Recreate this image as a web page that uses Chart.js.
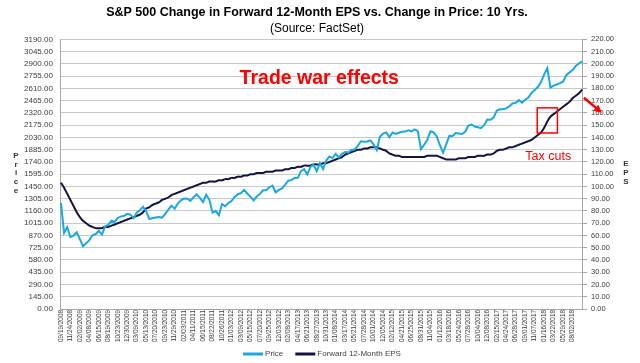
<!DOCTYPE html>
<html>
<head>
<meta charset="utf-8">
<script src="https://cdn.jsdelivr.net/npm/chart.js@4.4.1/dist/chart.umd.min.js"></script>
<style>
  html, body { margin: 0; padding: 0; background: #fff; }
  #wrap { width: 640px; height: 363px; }
</style>
</head>
<body>
<div id="wrap"><canvas id="c" width="640" height="363"></canvas></div>
<script>
// Tick labels on the date axis (one every third data point)
const tickLabels = [
  '09/19/2008','11/24/2008','02/02/2009','04/08/2009','06/15/2009','08/19/2009','10/23/2009','12/30/2009',
  '03/09/2010','05/13/2010','07/20/2010','09/23/2010','11/29/2010','02/03/2011','04/11/2011','06/15/2011',
  '08/22/2011','10/26/2011','01/03/2012','03/09/2012','05/15/2012','07/20/2012','09/25/2012','12/03/2012',
  '02/08/2013','04/17/2013','06/21/2013','08/27/2013','10/31/2013','01/08/2014','03/17/2014','05/21/2014',
  '07/28/2014','10/01/2014','12/05/2014','02/12/2015','04/21/2015','06/25/2015','08/31/2015','11/04/2015',
  '01/12/2016','03/18/2016','05/24/2016','07/28/2016','10/04/2016','12/08/2016','02/15/2017','04/24/2017',
  '06/28/2017','09/01/2017','11/07/2017','01/16/2018','03/22/2018','05/29/2018','08/02/2018'
];

// S&P 500 price (left axis), three points per tick interval
const price = [
  1255, 900, 968,   852, 869, 907,   826, 743, 778,   815, 873, 887,
  924, 881, 979,    996, 1044, 1029, 1080, 1093, 1103, 1126, 1116, 1075,
  1140, 1169, 1208, 1157, 1064, 1076, 1083, 1089, 1080, 1124, 1176, 1223,
  1187, 1247, 1285, 1307, 1306, 1279, 1324, 1356, 1316, 1265, 1353, 1292,
  1140, 1162, 1110, 1242, 1216, 1255, 1277, 1326, 1358, 1370, 1408, 1367,
  1330, 1285, 1331, 1362, 1405, 1406, 1441, 1460, 1380, 1409, 1427, 1472,
  1518, 1525, 1551, 1552, 1632, 1654, 1592, 1682, 1707, 1631, 1725, 1656,
  1757, 1804, 1786, 1837, 1794, 1836, 1858, 1851, 1884, 1888, 1930, 1985,
  1978, 1982, 1995, 1946, 1880, 2039, 2075, 2090, 2032, 2088, 2071, 2086,
  2097, 2099, 2114, 2102, 2126, 2104, 1890, 1943, 2003, 2102, 2089, 2041,
  1938, 1850, 1951, 2049, 2047, 2081, 2076, 2071, 2097, 2170, 2183, 2159,
  2150, 2139, 2176, 2241, 2239, 2265, 2349, 2364, 2363, 2374, 2400, 2433,
  2440, 2473, 2441, 2477, 2502, 2557, 2591, 2626, 2685, 2776, 2850, 2620,
  2644, 2656, 2672, 2690, 2767, 2798, 2827, 2875, 2905, 2930
];

// Forward 12-month EPS (right axis)
const eps = [
  103, 99, 94,   89, 84, 79,   75, 72, 70,   68, 67, 66,
  66, 66, 67,    67, 68, 69,   70, 71, 72,   73, 74, 75,
  76, 77, 79,    82, 83, 85,   86, 87, 89,   90, 91, 93,
  94, 95, 96,    97, 98, 99,   100, 101, 102, 103, 103, 104,
  104, 104, 105, 105, 106, 106, 107, 107, 108, 108, 109, 109,
  110, 110, 111, 111, 111, 112, 112, 112, 113, 113, 113, 114,
  114, 115, 115, 116, 116, 117, 117, 117, 118, 118, 118, 119,
  119, 120, 121, 122, 123, 124, 126, 127, 128, 129, 130, 130,
  131, 131, 132, 132, 132, 131, 130, 129, 127, 126, 125, 125,
  124, 124, 124, 124, 124, 124, 124, 124, 125, 125, 125, 125,
  124, 123, 122, 122, 122, 122, 123, 123, 123, 124, 124, 124,
  125, 125, 125, 126, 126, 127, 129, 130, 130, 131, 132, 132,
  133, 134, 135, 136, 137, 138, 140, 142, 144, 148, 153, 157,
  159, 161, 163, 165, 167, 169, 172, 174, 176, 179
];

const labels = price.map((_, i) => (i % 3 === 0 && tickLabels[i / 3]) ? tickLabels[i / 3] : '');

const FONT = "'Liberation Sans', Arial, sans-serif";

// red notes, stacked axis titles, legend row
const notesPlugin = {
  id: 'notes',
  afterDraw(chart) {
    const ctx = chart.ctx;
    const x = chart.scales.x, y = chart.scales.y;
    ctx.save();
    ctx.fillStyle = '#ff0000';
    ctx.strokeStyle = '#ff0000';
    ctx.textAlign = 'center';
    ctx.textBaseline = 'middle';
    ctx.font = 'bold 19.5px ' + FONT;
    ctx.fillText('Trade war effects', x.getPixelForValue(81.8), y.getPixelForValue(2726));
    ctx.font = '12.5px ' + FONT;
    ctx.fillText('Tax cuts', x.getPixelForValue(154.3), y.getPixelForValue(1800));

    // box round the tax-cut jump
    const bx1 = x.getPixelForValue(150.8), bx2 = x.getPixelForValue(157.2);
    const by1 = y.getPixelForValue(2380), by2 = y.getPixelForValue(2083);
    ctx.lineWidth = 1.5;
    ctx.strokeRect(bx1, by1, bx2 - bx1, by2 - by1);

    // arrow from the end of the EPS line towards the right axis
    const ax1 = x.getPixelForValue(165.6), ay1 = y.getPixelForValue(2500);
    const ax2 = x.getPixelForValue(171.3), ay2 = y.getPixelForValue(2321);
    const ang = Math.atan2(ay2 - ay1, ax2 - ax1);
    ctx.lineWidth = 2.5;
    ctx.beginPath();
    ctx.moveTo(ax1, ay1);
    ctx.lineTo(ax2 - 5 * Math.cos(ang), ay2 - 5 * Math.sin(ang));
    ctx.stroke();
    ctx.beginPath();
    ctx.moveTo(ax2, ay2);
    ctx.lineTo(ax2 - 9 * Math.cos(ang - 0.45), ay2 - 9 * Math.sin(ang - 0.45));
    ctx.lineTo(ax2 - 9 * Math.cos(ang + 0.45), ay2 - 9 * Math.sin(ang + 0.45));
    ctx.closePath();
    ctx.fill();

    // axis titles, one letter per line
    ctx.fillStyle = '#333';
    ctx.font = 'bold 8px ' + FONT;
    'Price'.split('').forEach((ch, i) => ctx.fillText(ch, 16, 156 + i * 8.6));
    'EPS'.split('').forEach((ch, i) => ctx.fillText(ch, 626, 164 + i * 9));

    // legend: line sample + label per dataset, centred under the plot
    ctx.font = '8px ' + FONT;
    ctx.textAlign = 'left';
    const items = chart.data.datasets.map(d => ({ text: d.label, color: d.borderColor, w: ctx.measureText(d.label).width }));
    const lineW = 20, gap = 2, sep = 12;
    const total = items.reduce((s, it) => s + lineW + gap + it.w, 0) + sep * (items.length - 1);
    let lx = 322 - total / 2;
    const ly = 354;
    items.forEach(it => {
      ctx.fillStyle = it.color;
      ctx.fillRect(lx, ly - 1.5, lineW, 3);
      ctx.fillStyle = '#404040';
      ctx.fillText(it.text, lx + lineW + gap, ly);
      lx += lineW + gap + it.w + sep;
    });
    ctx.restore();
  }
};

new Chart(document.getElementById('c'), {
  type: 'line',
  data: {
    labels: labels,
    datasets: [
      {
        label: 'Price',
        data: price,
        yAxisID: 'y',
        borderColor: '#1ba7e4',
        backgroundColor: '#1ba7e4',
        borderWidth: 2,
        pointRadius: 0,
        tension: 0
      },
      {
        label: 'Forward 12-Month EPS',
        data: eps,
        yAxisID: 'y1',
        borderColor: '#141440',
        backgroundColor: '#141440',
        borderWidth: 2,
        pointRadius: 0,
        tension: 0.3
      }
    ]
  },
  options: {
    animation: false,
    responsive: false,
    layout: { padding: { left: 16, right: 22, top: 0, bottom: 20 } },
    scales: {
      x: {
        ticks: { autoSkip: false, maxRotation: 90, minRotation: 90, color: '#404040', font: { family: FONT, size: 6.4 }, padding: 1 },
        grid: { display: false, drawTicks: false },
        border: { color: '#a6a6a6' }
      },
      y: {
        position: 'left',
        min: 0, max: 3190,
        ticks: { autoSkip: false, stepSize: 145, color: '#404040', font: { family: FONT, size: 8 }, padding: 8, callback: v => v.toFixed(2) },
        grid: { color: '#c8c8c8', drawTicks: false },
        border: { color: '#a6a6a6' }
      },
      y1: {
        position: 'right',
        min: 0, max: 220,
        ticks: { autoSkip: false, stepSize: 10, color: '#404040', font: { family: FONT, size: 7.5 }, padding: 4, callback: v => v.toFixed(2) },
        grid: { drawOnChartArea: false, tickLength: 5, color: '#a6a6a6' },
        border: { color: '#a6a6a6' }
      }
    },
    plugins: {
      title: {
        display: true,
        text: 'S&P 500 Change in Forward 12-Month EPS vs. Change in Price: 10 Yrs.',
        color: '#000',
        font: { family: FONT, size: 12.5, weight: 'bold' },
        padding: { top: 5, bottom: 1 }
      },
      subtitle: {
        display: true,
        text: '(Source: FactSet)',
        color: '#000',
        font: { family: FONT, size: 12 },
        padding: { bottom: 4 }
      },
      legend: { display: false },
      tooltip: { enabled: false }
    }
  },
  plugins: [notesPlugin]
});
</script>
</body>
</html>
